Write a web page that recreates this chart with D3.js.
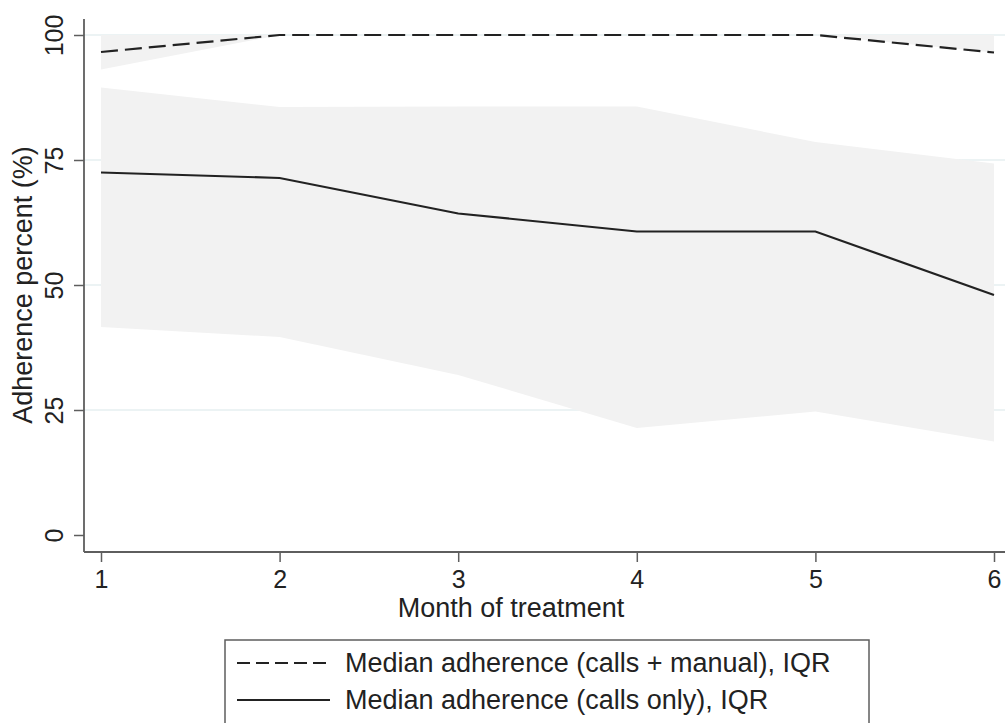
<!DOCTYPE html>
<html>
<head>
<meta charset="utf-8">
<script src="https://cdn.jsdelivr.net/npm/d3@7"></script>
<style>
  html, body { margin: 0; padding: 0; background: #fff; }
  svg { display: block; font-family: "Liberation Sans", Arial, Helvetica, sans-serif; }
</style>
</head>
<body>
<svg id="chart" width="1005" height="723"></svg>
<script>
// ---- data ----
const months = [1, 2, 3, 4, 5, 6];
const manualMedian = [96.6, 100, 100, 100, 100, 96.5];
const manualQ1 = [93.1, 100, 100, 100, 100, 96.5];
const manualQ3 = [100, 100, 100, 100, 100, 100];
const callsMedian = [72.5, 71.4, 64.3, 60.7, 60.7, 48.0];
const callsQ1 = [41.6, 39.6, 32.0, 21.4, 24.7, 18.7];
const callsQ3 = [89.5, 85.6, 85.7, 85.7, 78.6, 74.3];
const yTicks = [0, 25, 50, 75, 100];
const xTicks = [1, 2, 3, 4, 5, 6];
const legendLabels = ["Median adherence (calls + manual), IQR", "Median adherence (calls only), IQR"];
const xTitle = "Month of treatment";
const yTitle = "Adherence percent (%)";

// ---- layout ----
const svg = d3.select("#chart");
const axisX = 84, axisY = 552, plotRight = 1005, axisTop = 19;
const x = d3.scaleLinear().domain([1, 6]).range([101, 994]);
const y = d3.scaleLinear().domain([0, 100]).range([535, 35]);
const tickFont = 25, titleFont = 27;

// gridlines
svg.append("g").selectAll("line").data(yTicks.filter(d => d > 0)).join("line")
  .attr("x1", axisX).attr("x2", plotRight)
  .attr("y1", d => y(d)).attr("y2", d => y(d))
  .attr("stroke", "#e6eff0").attr("stroke-width", 1.5);

// bands
const area = (lo, hi) => d3.area()
  .x((d, i) => x(months[i]))
  .y0((d, i) => y(lo[i]))
  .y1((d, i) => y(hi[i]));
svg.append("path").datum(months).attr("d", area(callsQ1, callsQ3)).attr("fill", "#f2f2f2");
svg.append("path").datum(months).attr("d", area(manualQ1, manualQ3)).attr("fill", "#f2f2f2");

// lines
const line = vals => d3.line().x((d, i) => x(months[i])).y((d, i) => y(vals[i]));
svg.append("path").datum(months).attr("d", line(manualMedian))
  .attr("fill", "none").attr("stroke", "#222").attr("stroke-width", 2.2)
  .attr("stroke-dasharray", "17,7");
svg.append("path").datum(months).attr("d", line(callsMedian))
  .attr("fill", "none").attr("stroke", "#222").attr("stroke-width", 2.2);

// axes
const axisColor = "#5e5e5e";
const yAxis = svg.append("g").attr("transform", `translate(${axisX},0)`)
  .call(d3.axisLeft(y).tickValues(yTicks).tickSize(10).tickPadding(6).tickSizeOuter(0));
yAxis.select(".domain").remove();
yAxis.selectAll(".tick line").attr("stroke", axisColor).attr("stroke-width", 1.5);
yAxis.selectAll(".tick text")
  .attr("font-size", tickFont).attr("fill", "#222")
  .attr("text-anchor", "middle").attr("dy", null)
  .attr("x", 0).attr("y", 0)
  .attr("transform", "translate(-21,0) rotate(-90)");
svg.append("line").attr("x1", axisX).attr("x2", axisX).attr("y1", axisTop).attr("y2", axisY)
  .attr("stroke", axisColor).attr("stroke-width", 1.8);

const xAxis = svg.append("g").attr("transform", `translate(0,${axisY})`)
  .call(d3.axisBottom(x).tickValues(xTicks).tickFormat(d3.format("d")).tickSize(10).tickPadding(8).tickSizeOuter(0));
xAxis.select(".domain").remove();
xAxis.selectAll(".tick line").attr("stroke", axisColor).attr("stroke-width", 1.5);
xAxis.selectAll(".tick text").attr("font-size", tickFont).attr("fill", "#222");
svg.append("line").attr("x1", axisX).attr("x2", plotRight).attr("y1", axisY).attr("y2", axisY)
  .attr("stroke", axisColor).attr("stroke-width", 1.8);

// titles
svg.append("text").attr("x", 511).attr("y", 617).attr("text-anchor", "middle")
  .attr("font-size", titleFont).attr("fill", "#222").text(xTitle);
svg.append("text").attr("transform", "translate(32,285) rotate(-90)").attr("text-anchor", "middle")
  .attr("font-size", titleFont).attr("fill", "#222").text(yTitle);

// legend
svg.append("rect").attr("x", 225).attr("y", 640).attr("width", 644).attr("height", 120)
  .attr("fill", "#fff").attr("stroke", axisColor).attr("stroke-width", 1.5);
const legRows = [
  { label: legendLabels[0], dash: "13,6", cy: 663 },
  { label: legendLabels[1], dash: null, cy: 700 }
];
legRows.forEach(r => {
  svg.append("line").attr("x1", 237).attr("x2", 330).attr("y1", r.cy).attr("y2", r.cy)
    .attr("stroke", "#222").attr("stroke-width", 2.2)
    .attr("stroke-dasharray", r.dash);
  svg.append("text").attr("x", 345).attr("y", r.cy + 9).attr("font-size", titleFont)
    .attr("fill", "#222").text(r.label);
});
</script>
</body>
</html>
